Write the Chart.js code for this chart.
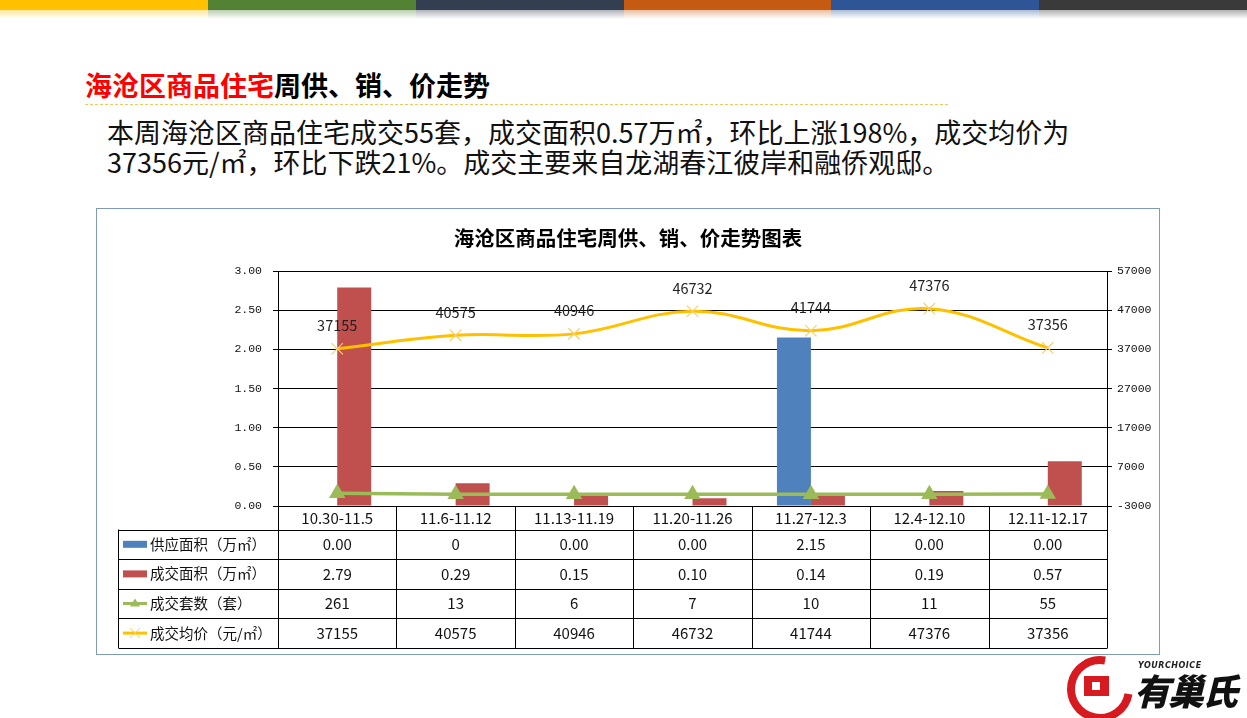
<!DOCTYPE html>
<html><head><meta charset="utf-8">
<script src="https://cdn.jsdelivr.net/npm/chart.js@4.4.0/dist/chart.umd.min.js"></script>
<style>
html,body{margin:0;padding:0;background:#fff;width:1247px;height:718px;overflow:hidden;font-family:"Noto Sans CJK SC","Noto Sans",sans-serif;}
.seg{position:absolute;top:0;height:10px;}
.fade{position:absolute;top:10px;height:9px;}
#ttl{position:absolute;left:85px;top:68px;font-size:27px;font-weight:700;line-height:34px;white-space:nowrap;color:#000;}
#ttl .r{color:#FF0000;}
#dash{position:absolute;left:85px;top:104px;width:863px;border-top:1px dashed #F2C75C;}
#para{position:absolute;left:107px;top:117px;font-size:27px;line-height:30px;white-space:nowrap;color:#111;}
#box{position:absolute;left:96px;top:208px;width:1062px;height:445px;border:1px solid #7F9BBA;}
#box canvas{position:absolute;left:0;top:0;}
#logo{position:absolute;left:1062px;top:652px;width:185px;height:66px;}
</style></head><body>
<div id="bars"></div>
<div id="ttl"><span class="r">海沧区商品住宅</span>周供、销、价走势</div>
<div id="dash"></div>
<div id="para">本周海沧区商品住宅成交55套，成交面积0.57万㎡，环比上涨198%，成交均价为<br>37356元/㎡，环比下跌21%。成交主要来自龙湖春江彼岸和融侨观邸。</div>
<div id="box"><canvas id="c" width="1062" height="445"></canvas></div>
<div id="logo">
  <div style="position:absolute;left:5px;top:4px;width:50px;height:50px;border-radius:50%;border:8px solid #D71920;border-right-color:transparent;transform:rotate(-35deg);"></div>
  <div style="position:absolute;left:22px;top:24px;width:25px;height:20px;background:#D71920;"></div>
  <div style="position:absolute;left:30px;top:30px;width:8px;height:8px;background:#fff;"></div>
  <div style="position:absolute;left:76px;top:9px;font-size:8px;font-style:italic;font-weight:700;letter-spacing:0.5px;color:#222;font-family:'DejaVu Sans';">YOURCHOICE</div>
  <div style="position:absolute;left:72px;top:14px;font-size:36px;font-weight:900;font-style:italic;color:#111;line-height:46px;letter-spacing:-2px;">有巢氏</div>
</div>
<script>
const categories = ['10.30-11.5','11.6-11.12','11.13-11.19','11.20-11.26','11.27-12.3','12.4-12.10','12.11-12.17'];
const supplyArea = [0, 0, 0, 0, 2.15, 0, 0];
const dealArea = [2.79, 0.29, 0.15, 0.10, 0.14, 0.19, 0.57];
const dealUnits = [261, 13, 6, 7, 10, 11, 55];
const avgPrice = [37155, 40575, 40946, 46732, 41744, 47376, 37356];
const supplyLabels = ['0.00','0','0.00','0.00','2.15','0.00','0.00'];
const dealAreaLabels = ['2.79','0.29','0.15','0.10','0.14','0.19','0.57'];
const unitsLabels = ['261','13','6','7','10','11','55'];
const priceLabels = ['37155','40575','40946','46732','41744','47376','37356'];
const leftTicks = [0, 0.5, 1, 1.5, 2, 2.5, 3];
const rightTicks = [-3000, 7000, 17000, 27000, 37000, 47000, 57000];
const seriesNames = ['供应面积（万㎡）','成交面积（万㎡）','成交套数（套）','成交均价（元/㎡）'];
const chartTitle = '海沧区商品住宅周供、销、价走势图表';

const topColors = ['#FFC000','#548235','#333F50','#C55A11','#2F5597','#3A3A3A'];
const bars = document.getElementById('bars');
topColors.forEach((c,i)=>{
  const l = Math.round(i*1247/6), r = Math.round((i+1)*1247/6);
  const s = document.createElement('div'); s.className='seg';
  s.style.left=l+'px'; s.style.width=(r-l)+'px'; s.style.background=c; bars.appendChild(s);
  const f = document.createElement('div'); f.className='fade';
  f.style.left=l+'px'; f.style.width=(r-l)+'px';
  f.style.background='linear-gradient(to bottom,'+c+'66, '+c+'00)'; bars.appendChild(f);
});

const CJK = '"Noto Sans CJK SC","Noto Sans",sans-serif';
const MONO = '"Liberation Mono","DejaVu Sans Mono",monospace';
const COLORS = {blue:'#4F81BD', red:'#C0504D', green:'#9BBB59', yellow:'#FFC000'};

const tablePlugin = {
  id:'table',
  afterDatasetsDraw(chart){
    const ctx = chart.ctx;
    const meta = chart.getDatasetMeta(3);
    ctx.save();
    ctx.font = '14.5px ' + CJK; ctx.fillStyle = '#222'; ctx.textAlign='center'; ctx.textBaseline='middle';
    meta.data.forEach((p,i)=>{ ctx.fillText(priceLabels[i], p.x, p.y - 23); });
    ctx.restore();
  },
  afterDraw(chart){
    const ctx = chart.ctx, ca = chart.chartArea, xs = chart.scales.x;
    const n = categories.length, cw = (ca.right - ca.left)/n;
    const rowTop = ca.bottom + 23.5, rowH = 29.6, leftX = 21.5;
    const bottom = rowTop + rowH*4;
    ctx.save();
    ctx.strokeStyle = '#000'; ctx.lineWidth = 1;
    ctx.beginPath();
    for(let i=0;i<=n;i++){
      const x = Math.round(ca.left + cw*i) + 0.5;
      ctx.moveTo(x, ca.bottom); ctx.lineTo(x, bottom);
    }
    ctx.moveTo(leftX, rowTop); ctx.lineTo(leftX, bottom);
    for(let r=0;r<=4;r++){
      const y = Math.round(rowTop + rowH*r) + 0.5;
      ctx.moveTo(leftX, y); ctx.lineTo(Math.round(ca.right)+0.5, y);
    }
    ctx.stroke();
    const rows = [supplyLabels, dealAreaLabels, unitsLabels, priceLabels];
    ctx.font = '15px ' + CJK; ctx.fillStyle = '#111'; ctx.textAlign='center'; ctx.textBaseline='middle';
    rows.forEach((row,r)=>{
      const yc = rowTop + rowH*r + rowH/2;
      row.forEach((t,i)=>{ ctx.fillText(t, xs.getPixelForValue(i), yc); });
    });
    ctx.textAlign='left'; ctx.font = '14.5px ' + CJK;
    seriesNames.forEach((name,r)=>{
      const yc = rowTop + rowH*r + rowH/2;
      const sx = 26, ex = 50;
      if(r===0 || r===1){
        ctx.fillStyle = r===0?COLORS.blue:COLORS.red;
        ctx.fillRect(sx, yc-3.5, ex-sx, 7);
      } else if(r===2){
        ctx.strokeStyle = COLORS.green; ctx.lineWidth=3;
        ctx.beginPath(); ctx.moveTo(sx,yc); ctx.lineTo(ex,yc); ctx.stroke();
        ctx.fillStyle = COLORS.green;
        ctx.beginPath(); ctx.moveTo(38,yc-5); ctx.lineTo(43,yc+3); ctx.lineTo(33,yc+3); ctx.closePath(); ctx.fill();
      } else {
        ctx.strokeStyle = COLORS.yellow; ctx.lineWidth=3;
        ctx.beginPath(); ctx.moveTo(sx,yc); ctx.lineTo(ex,yc); ctx.stroke();
        ctx.strokeStyle = '#F5CF60'; ctx.lineWidth=1;
        ctx.beginPath(); ctx.moveTo(33,yc-5); ctx.lineTo(43,yc+5); ctx.moveTo(43,yc-5); ctx.lineTo(33,yc+5); ctx.stroke();
      }
      ctx.fillStyle = '#111';
      ctx.fillText(name, 53, yc);
    });
    ctx.restore();
  }
};

new Chart(document.getElementById('c'), {
  data:{
    labels: categories,
    datasets:[
      {type:'bar', label:seriesNames[0], data:supplyArea, backgroundColor:COLORS.blue, yAxisID:'yL', order:2, categoryPercentage:0.574, barPercentage:1},
      {type:'bar', label:seriesNames[1], data:dealArea, backgroundColor:COLORS.red, yAxisID:'yL', order:2, categoryPercentage:0.574, barPercentage:1},
      {type:'line', label:seriesNames[2], data:dealUnits, borderColor:COLORS.green, backgroundColor:COLORS.green, borderWidth:3.5, yAxisID:'yR', order:1, tension:0, pointStyle:'triangle', pointRadius:6, pointBackgroundColor:COLORS.green, pointBorderColor:COLORS.green},
      {type:'line', label:seriesNames[3], data:avgPrice, borderColor:COLORS.yellow, borderWidth:3, yAxisID:'yR', order:0, tension:0.4, pointStyle:'crossRot', pointRadius:8, pointBorderColor:'#F7D06A', pointBorderWidth:1.2, pointBackgroundColor:'#F7D06A'}
    ]
  },
  options:{
    responsive:false, animation:false,
    layout:{padding:0},
    plugins:{
      legend:{display:false}, tooltip:{enabled:false},
      title:{display:true, text:chartTitle, color:'#000', font:{family:CJK, size:20.5, weight:'bold'}, padding:{top:17, bottom:20.4}}
    },
    scales:{
      x:{grid:{display:false, drawTicks:false}, border:{display:false}, ticks:{color:'#111', font:{family:CJK, size:15}, padding:3, maxRotation:0, autoSkip:false}, afterFit(s){s.height=148;}},
      yL:{position:'left', min:0, max:3,
          afterBuildTicks(s){s.ticks = leftTicks.map(v=>({value:v}));},
          ticks:{callback:v=>Number(v).toFixed(2), color:'#111', font:{family:MONO, size:11.5}, padding:11},
          grid:{color:'#000', lineWidth:1, tickLength:5},
          border:{display:true, color:'#000'},
          afterFit(s){s.width=181;}},
      yR:{position:'right', min:-3000, max:57000,
          afterBuildTicks(s){s.ticks = rightTicks.map(v=>({value:v}));},
          ticks:{callback:v=>String(v), color:'#111', font:{family:MONO, size:11.5}, padding:5},
          grid:{drawOnChartArea:false, color:'#000', tickLength:5},
          border:{display:true, color:'#000'},
          afterFit(s){s.width=52;}}
    }
  },
  plugins:[tablePlugin]
});
</script>
</body></html>
